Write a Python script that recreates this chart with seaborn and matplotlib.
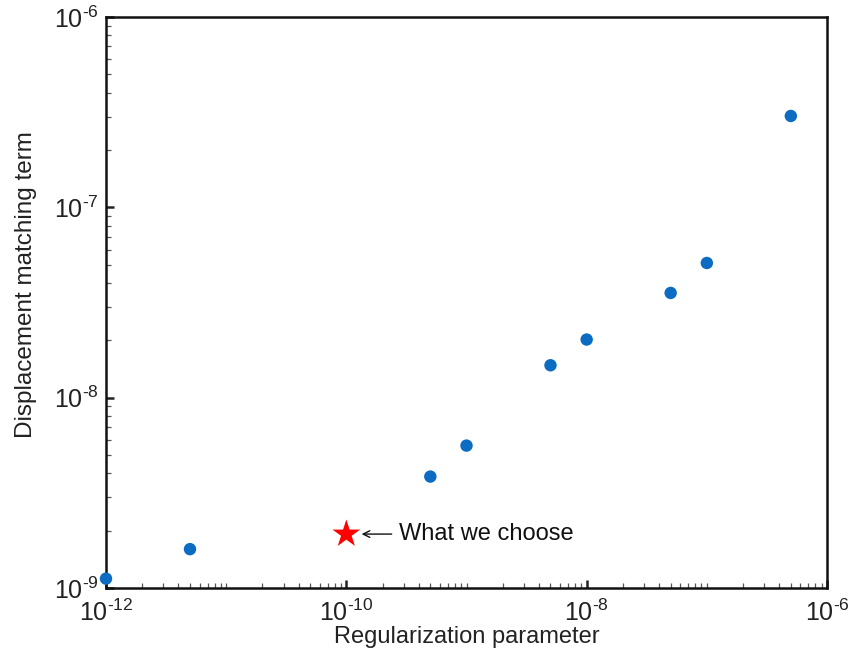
import numpy as np
import pandas as pd
import matplotlib
matplotlib.use("Agg")
import matplotlib.pyplot as plt
import matplotlib.ticker as mticker
import seaborn as sns

# Data
reg_param = [1e-12, 5e-12, 5e-10, 1e-9, 5e-9, 1e-8, 5e-8, 1e-7, 5e-7]
disp_term = [1.12e-9, 1.60e-9, 3.85e-9, 5.6e-9, 1.48e-8, 2.02e-8, 3.55e-8, 5.1e-8, 3.02e-7]
chosen_x = [1e-10]
chosen_y = [1.92e-9]
annot_text = "What we choose"
x_label = "Regularization parameter"
y_label = "Displacement matching term"
x_major = [1e-12, 1e-10, 1e-8, 1e-6]
y_major = [1e-9, 1e-8, 1e-7, 1e-6]

sns.set_style("ticks")
plt.rcParams["font.family"] = ["Liberation Sans", "DejaVu Sans"]
plt.rcParams["mathtext.fontset"] = "custom"
plt.rcParams["mathtext.rm"] = "Liberation Sans"
plt.rcParams["mathtext.it"] = "Liberation Sans:italic"
plt.rcParams["mathtext.bf"] = "Liberation Sans:bold"

df = pd.DataFrame({"x": reg_param, "y": disp_term})
dfc = pd.DataFrame({"x": chosen_x, "y": chosen_y})

fig = plt.figure(figsize=(8.57, 6.63), dpi=100)
ax = fig.add_axes([106 / 857, 1 - 588 / 663, (827 - 106) / 857, (588 - 17) / 663])

sns.scatterplot(data=df, x="x", y="y", ax=ax, color="#0b6cc1", s=80,
                edgecolor="none", zorder=3, clip_on=False)
sns.scatterplot(data=dfc, x="x", y="y", ax=ax, color="#ff0000", marker="*",
                s=440, edgecolor="none", zorder=3)

ax.set_xscale("log")
ax.set_yscale("log")
ax.set_xlim(1e-12, 1e-6)
ax.set_ylim(1e-9, 1e-6)


def pow_fmt(v, pos):
    k = int(round(np.log10(v)))
    return r"$\mathregular{10^{\text{-}%d}}$" % abs(k)


ax.xaxis.set_major_locator(mticker.FixedLocator(x_major))
ax.xaxis.set_major_formatter(mticker.FuncFormatter(pow_fmt))
ax.xaxis.set_minor_locator(mticker.LogLocator(base=10, subs=np.arange(1, 10), numticks=100))
ax.xaxis.set_minor_formatter(mticker.NullFormatter())
ax.yaxis.set_major_locator(mticker.FixedLocator(y_major))
ax.yaxis.set_major_formatter(mticker.FuncFormatter(pow_fmt))
ax.yaxis.set_minor_locator(mticker.LogLocator(base=10, subs=np.arange(2, 10), numticks=100))
ax.yaxis.set_minor_formatter(mticker.NullFormatter())

ax.tick_params(which="major", direction="in", length=6, width=1.8, labelsize=18, colors="#222222", pad=8)
ax.tick_params(which="minor", direction="in", length=3.5, width=0.9, color="#555555")
ax.tick_params(axis="y", which="major", pad=5)

for sp in ax.spines.values():
    sp.set_linewidth(1.8)
    sp.set_color("#111111")

ax.set_xlabel(x_label, fontsize=17, color="#222222", labelpad=0)
ax.set_ylabel(y_label, fontsize=17.5, color="#222222")
ax.yaxis.set_label_coords(-0.096, 0.531)

ax.annotate(annot_text, xy=(chosen_x[0], chosen_y[0]), xycoords="data",
            xytext=(38, 0), textcoords="offset points", ha="left", va="center",
            fontsize=17, color="#111111",
            arrowprops=dict(arrowstyle="->", color="#111111", lw=1.0,
                            shrinkA=3, shrinkB=11, mutation_scale=12))

fig.savefig("out.png", dpi=100)
